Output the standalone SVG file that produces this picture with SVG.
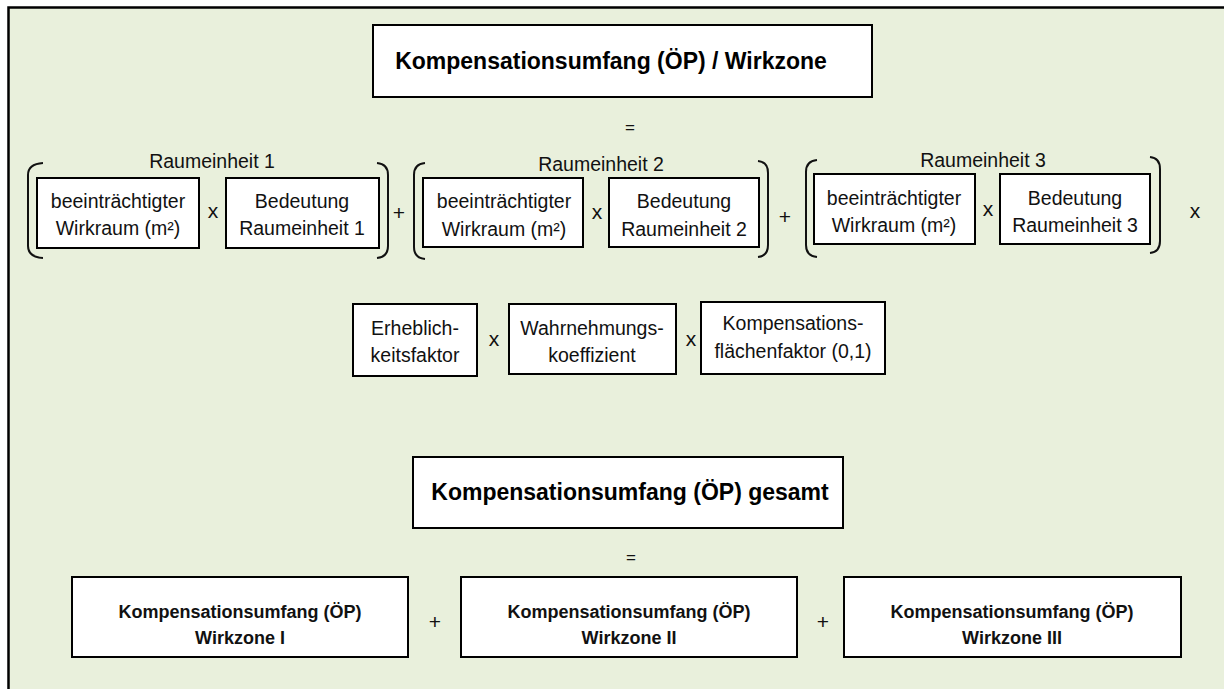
<svg xmlns="http://www.w3.org/2000/svg" width="1224" height="689" viewBox="0 0 1224 689">
<style>
.box{fill:#fff;stroke:#000;stroke-width:2}
.t{font-family:"Liberation Sans",Arial,sans-serif;font-size:19.5px;fill:#111;text-anchor:middle}
.tb{font-family:"Liberation Sans",Arial,sans-serif;font-size:18px;font-weight:bold;fill:#111;text-anchor:middle}
.title{font-family:"Liberation Sans",Arial,sans-serif;font-size:23px;font-weight:bold;fill:#000;text-anchor:middle}
.op{font-family:"Liberation Sans",Arial,sans-serif;font-size:21px;fill:#111;text-anchor:middle}
.eq{font-family:"Liberation Sans",Arial,sans-serif;font-size:17px;fill:#111;text-anchor:middle}
.br{fill:none;stroke:#111;stroke-width:2}
</style>
<rect x="0" y="0" width="1224" height="689" fill="#fff"/>
<rect x="8.5" y="7.5" width="1230" height="700" fill="#e9f0dc" stroke="#000" stroke-width="2.5"/>

<g id="title1">
<rect class="box" x="373" y="25" width="499" height="72"/>
<text class="title" x="611" y="69">Kompensationsumfang (ÖP) / Wirkzone</text>
</g>
<text class="eq" x="630" y="133">=</text>

<g id="connectors">
<path class="br" d="M43,163 Q28,164 28,175 L28,246 Q28,257 43,258"/>
<path class="br" d="M377,163 Q388,164 388,175 L388,246 Q388,257 377,258"/>
<path class="br" d="M425,163 Q414,164 414,175 L414,247 Q414,258 425,259"/>
<path class="br" d="M758,161 Q768,162 768,173 L768,245 Q768,256 758,257"/>
<path class="br" d="M817,160 Q806,161 806,172 L806,245 Q806,256 817,257"/>
<path class="br" d="M1150,157 Q1160,158 1160,169 L1160,241 Q1160,252 1150,253"/>
</g>

<g id="ru1">
<text class="t" x="212" y="168">Raumeinheit  1</text>
<g id="ru1-wirkraum">
<rect class="box" x="37" y="178" width="162" height="70"/>
<text class="t" x="118" y="208">beeinträchtigter</text>
<text class="t" x="118" y="235">Wirkraum (m²)</text>
</g>
<text class="op" x="213" y="218">x</text>
<g id="ru1-bedeutung">
<rect class="box" x="226" y="178" width="153" height="70"/>
<text class="t" x="302" y="208">Bedeutung</text>
<text class="t" x="302" y="235">Raumeinheit  1</text>
</g>
</g>
<text class="op" x="399" y="220">+</text>

<g id="ru2">
<text class="t" x="601" y="171">Raumeinheit  2</text>
<g id="ru2-wirkraum">
<rect class="box" x="423" y="178" width="160" height="69"/>
<text class="t" x="504" y="208">beeinträchtigter</text>
<text class="t" x="504" y="236">Wirkraum (m²)</text>
</g>
<text class="op" x="597" y="219">x</text>
<g id="ru2-bedeutung">
<rect class="box" x="609" y="178" width="150" height="69"/>
<text class="t" x="684" y="208">Bedeutung</text>
<text class="t" x="684" y="236">Raumeinheit  2</text>
</g>
</g>
<text class="op" x="785" y="224">+</text>

<g id="ru3">
<text class="t" x="983" y="167">Raumeinheit  3</text>
<g id="ru3-wirkraum">
<rect class="box" x="814" y="174" width="161" height="70"/>
<text class="t" x="894" y="205">beeinträchtigter</text>
<text class="t" x="894" y="232">Wirkraum (m²)</text>
</g>
<text class="op" x="988" y="216">x</text>
<g id="ru3-bedeutung">
<rect class="box" x="1000" y="174" width="150" height="70"/>
<text class="t" x="1075" y="205">Bedeutung</text>
<text class="t" x="1075" y="232">Raumeinheit  3</text>
</g>
</g>
<text class="op" x="1195" y="218">x</text>

<g id="faktor1">
<rect class="box" x="353" y="304" width="124" height="72"/>
<text class="t" x="415" y="335">Erheblich-</text>
<text class="t" x="415" y="362">keitsfaktor</text>
</g>
<text class="op" x="494" y="346">x</text>
<g id="faktor2">
<rect class="box" x="509" y="304" width="167" height="70"/>
<text class="t" x="592" y="335">Wahrnehmungs-</text>
<text class="t" x="592" y="362">koeffizient</text>
</g>
<text class="op" x="691" y="346">x</text>
<g id="faktor3">
<rect class="box" x="701" y="302" width="184" height="72"/>
<text class="t" x="793" y="330">Kompensations-</text>
<text class="t" x="793" y="358">flächenfaktor (0,1)</text>
</g>

<g id="title2">
<rect class="box" x="413" y="457" width="430" height="71"/>
<text class="title" x="630" y="500">Kompensationsumfang (ÖP) gesamt</text>
</g>
<text class="eq" x="631" y="563">=</text>

<g id="wz1">
<rect class="box" x="72" y="577" width="336" height="80"/>
<text class="tb" x="240" y="618">Kompensationsumfang (ÖP)</text>
<text class="tb" x="240" y="644">Wirkzone I</text>
</g>
<text class="op" x="435" y="629">+</text>
<g id="wz2">
<rect class="box" x="461" y="577" width="336" height="80"/>
<text class="tb" x="629" y="618">Kompensationsumfang (ÖP)</text>
<text class="tb" x="629" y="644">Wirkzone II</text>
</g>
<text class="op" x="823" y="629">+</text>
<g id="wz3">
<rect class="box" x="844" y="577" width="337" height="80"/>
<text class="tb" x="1012" y="618">Kompensationsumfang (ÖP)</text>
<text class="tb" x="1012" y="644">Wirkzone III</text>
</g>
</svg>
